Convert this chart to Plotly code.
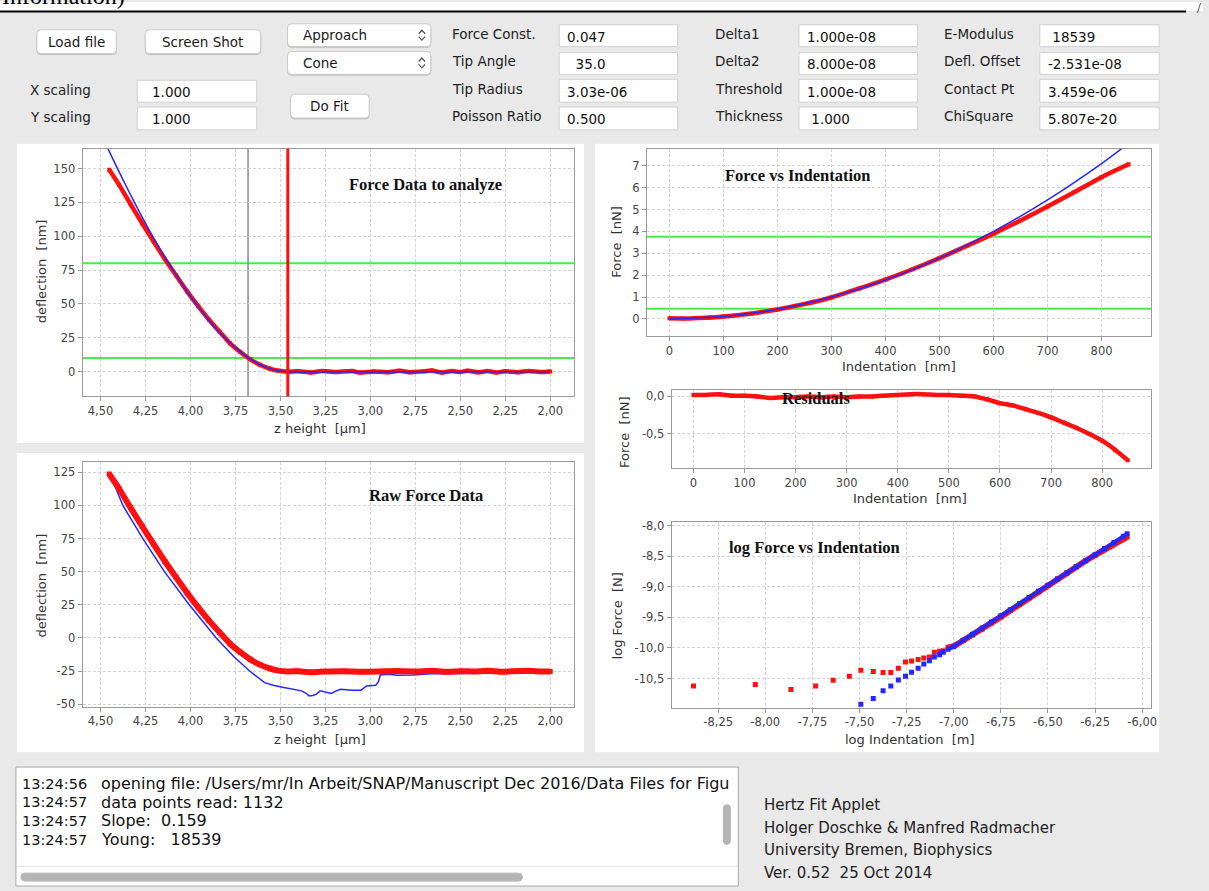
import plotly.graph_objects as go

W, H = 1209, 891

# ---------------- instrument parameters ----------------
force_const = 0.047        # N/m
delta1_nm = 10.0           # lower fit window (nm deflection)
delta2_nm = 80.0           # upper fit window (nm deflection)
contact_um = 3.459         # contact point (µm)
delta1_z_um = 3.68         # z where processed curve crosses Delta1

# ---------------- processed approach curve (z in µm, deflection in nm) ----------------
z_approach = [4.452, 4.397, 4.333, 4.268, 4.205, 4.142, 4.080, 4.018, 3.957, 3.897,
              3.838, 3.780, 3.723, 3.668, 3.614, 3.561, 3.510, 3.459,
              3.40, 3.33, 3.27, 3.20, 3.10, 3.06, 2.98, 2.90, 2.84, 2.78, 2.70, 2.66,
              2.60, 2.55, 2.50, 2.46, 2.40, 2.35, 2.30, 2.25, 2.18, 2.12, 2.05, 2.00]
defl_approach = [149.0, 137.9, 123.5, 109.4, 96.0, 83.0, 71.0, 59.1, 48.3, 38.3,
                 29.4, 20.9, 14.5, 9.1, 5.1, 2.3, 0.6, 0.0,
                 0.3, -0.6, 0.4, -0.3, 0.5, -0.7, 0.2, -0.5, 0.6, -0.4, 0.3, 0.8,
                 -0.6, 0.5, -0.3, 0.7, -0.5, 0.4, -0.6, 0.3, -0.4, 0.5, -0.3, 0.2]
z_fit = [4.480, 4.410, 4.342, 4.275, 4.209, 4.144, 4.080, 4.018, 3.957, 3.897,
         3.838, 3.780, 3.723, 3.668, 3.614, 3.561, 3.510, 3.459, 2.000]
defl_fit = [170.5, 151.0, 132.8, 115.6, 99.7, 85.0, 71.4, 59.0, 47.8, 37.8,
            28.9, 21.2, 14.8, 9.4, 5.3, 2.4, 0.6, 0.0, 0.0]

# ---------------- raw data (approach + retract) ----------------
z_raw_app = [4.452, 4.397, 4.333, 4.268, 4.205, 4.142, 4.080, 4.018, 3.957, 3.897,
             3.838, 3.780, 3.723, 3.668, 3.614, 3.561, 3.510, 3.459,
             3.40, 3.33, 3.25, 3.15, 3.05, 2.95, 2.85, 2.75, 2.66, 2.58, 2.50, 2.42,
             2.35, 2.28, 2.20, 2.12, 2.05, 2.00]
defl_raw_app = [123.7, 112.6, 98.2, 84.1, 70.7, 57.7, 45.7, 33.8, 23.0, 13.0,
                4.1, -4.4, -10.8, -16.2, -20.2, -23.0, -24.7, -25.3,
                -25.2, -25.9, -25.4, -25.1, -25.5, -25.3, -25.0, -25.4, -24.8, -25.6,
                -25.1, -25.4, -24.9, -25.5, -25.2, -24.8, -25.4, -25.3]
z_raw_ret = [4.451, 4.376, 4.265, 4.145, 4.007, 3.930, 3.857, 3.760, 3.671, 3.588,
             3.540, 3.496, 3.440, 3.382, 3.355, 3.341, 3.320, 3.300, 3.279, 3.250,
             3.217, 3.190, 3.166, 3.100, 3.052, 3.021, 2.990, 2.970, 2.955, 2.945,
             2.900, 2.850, 2.764, 2.700, 2.661, 2.500, 2.351, 2.200, 2.000]
defl_raw_ret = [124.7, 100.0, 75.0, 50.0, 25.0, 12.0, 0.0, -14.0, -25.0, -33.8,
                -35.8, -37.0, -38.5, -40.0, -42.0, -43.8, -43.5, -42.5, -40.0, -41.0,
                -42.0, -40.0, -38.8, -39.5, -39.5, -36.3, -36.0, -35.8, -33.0, -28.0,
                -27.5, -28.2, -28.0, -27.4, -27.0, -26.9, -26.6, -26.5, -26.3]

# ---------------- force vs indentation ----------------
ind_nm = [0, 25, 50, 75, 100, 150, 200, 250, 300, 350, 400, 450, 500, 550, 600,
          650, 700, 750, 800, 850]
force_nN = [0.03, 0.02, 0.04, 0.06, 0.11, 0.24, 0.43, 0.68, 0.98, 1.38, 1.80, 2.27,
            2.78, 3.33, 3.90, 4.50, 5.14, 5.80, 6.48, 7.07]
ind_fit_nm = [0, 100, 200, 300, 400, 500, 600, 700, 800, 850]
force_fit_nN = [0.0, 0.11, 0.44, 1.00, 1.78, 2.78, 4.00, 5.44, 7.10, 8.02]

# ---------------- residuals ----------------
ind_res_nm = [0, 25, 50, 75, 100, 125, 150, 175, 200, 225, 250, 275, 300, 325, 350,
              375, 400, 425, 450, 475, 500, 525, 550, 575, 600, 625, 650, 675, 700,
              725, 750, 775, 800, 825, 850]
residual_nN = [0.02, 0.02, 0.03, 0.01, 0.01, 0.0, -0.02, -0.01, -0.01, 0.0,
               -0.01, 0.0, -0.01, 0.0, 0.0, 0.01, 0.02, 0.03, 0.03, 0.02,
               0.02, 0.01, 0.0, -0.04, -0.09, -0.12, -0.17, -0.22, -0.28, -0.35,
               -0.42, -0.50, -0.59, -0.71, -0.85]

# ---------------- log-log data ----------------
log_ind_red = [-8.381, -8.053, -7.864, -7.733, -7.640, -7.554, -7.493, -7.427, -7.375, -7.334,
               -7.294, -7.256, -7.224, -7.189, -7.159, -7.129, -7.103, -7.075, -7.056, -7.030,
               -7.00, -6.95, -6.90, -6.85, -6.80, -6.75, -6.70, -6.65, -6.60, -6.55,
               -6.50, -6.45, -6.40, -6.35, -6.30, -6.25, -6.20, -6.15, -6.10, -6.08]
log_force_red = [-10.623, -10.596, -10.679, -10.623, -10.527, -10.462, -10.365, -10.386, -10.403, -10.403,
                 -10.331, -10.229, -10.213, -10.191, -10.164, -10.148, -10.071, -10.055, -10.045, -9.990,
                 -9.974, -9.879, -9.789, -9.694, -9.594, -9.492, -9.389, -9.284, -9.182, -9.079,
                 -8.977, -8.874, -8.774, -8.674, -8.574, -8.482, -8.390, -8.300, -8.216, -8.184]
log_ind_blue = [-7.493, -7.427, -7.375, -7.334, -7.294, -7.256, -7.224, -7.189, -7.159, -7.129,
                -7.103, -7.075, -7.056, -7.030,
                -7.00, -6.95, -6.90, -6.85, -6.80, -6.75, -6.70, -6.65, -6.60, -6.55,
                -6.50, -6.45, -6.40, -6.35, -6.30, -6.25, -6.20, -6.15, -6.10, -6.08]
log_force_blue = [-10.922, -10.825, -10.700, -10.623, -10.526, -10.461, -10.396, -10.331, -10.261, -10.208,
                  -10.148, -10.110, -10.070, -10.023,
                  -9.974, -9.874, -9.774, -9.674, -9.574, -9.474, -9.374, -9.274, -9.174, -9.074,
                  -8.974, -8.874, -8.774, -8.674, -8.574, -8.474, -8.374, -8.274, -8.174, -8.134]

# ---------------- tick labels ----------------
z_ticks = [4.50, 4.25, 4.00, 3.75, 3.50, 3.25, 3.00, 2.75, 2.50, 2.25, 2.00]
z_tick_text = ["4,50", "4,25", "4,00", "3,75", "3,50", "3,25", "3,00", "2,75", "2,50", "2,25", "2,00"]
defl_ticks = [0, 25, 50, 75, 100, 125, 150]
raw_defl_ticks = [-50, -25, 0, 25, 50, 75, 100, 125]
force_ticks = [0, 1, 2, 3, 4, 5, 6, 7]
ind_ticks = [0, 100, 200, 300, 400, 500, 600, 700, 800]
res_ticks = [0.0, -0.5]
res_tick_text = ["0,0", "-0,5"]
logf_ticks = [-8.0, -8.5, -9.0, -9.5, -10.0, -10.5]
logf_tick_text = ["-8,0", "-8,5", "-9,0", "-9,5", "-10,0", "-10,5"]
logi_ticks = [-8.25, -8.00, -7.75, -7.50, -7.25, -7.00, -6.75, -6.50, -6.25, -6.00]
logi_tick_text = ["-8,25", "-8,00", "-7,75", "-7,50", "-7,25", "-7,00", "-6,75", "-6,50", "-6,25", "-6,00"]

# ---------------- control panel content ----------------
param_col1 = [("Force Const.", "0.047"), ("Tip Angle", "  35.0"), ("Tip Radius", "3.03e-06"), ("Poisson Ratio", "0.500")]
param_col2 = [("Delta1", "1.000e-08"), ("Delta2", "8.000e-08"), ("Threshold", "1.000e-08"), ("Thickness", " 1.000")]
param_col3 = [("E-Modulus", " 18539"), ("Defl. Offset", "-2.531e-08"), ("Contact Pt", "3.459e-06"), ("ChiSquare", "5.807e-20")]
log_lines = [("13:24:56", "opening file: /Users/mr/In Arbeit/SNAP/Manuscript Dec 2016/Data Files for Figu"),
             ("13:24:57", "data points read: 1132"),
             ("13:24:57", "Slope:  0.159"),
             ("13:24:57", "Young:   18539")]
credits = ["Hertz Fit Applet", "Holger Doschke & Manfred Radmacher",
           "University Bremen, Biophysics", "Ver. 0.52  25 Oct 2014"]

# ---------------- style ----------------
BG = "#e9e9e9"
RED = "#ff1010"
BLUE = "#2626ff"
GREEN = "#44ee44"
UI_FONT = "DejaVu Sans"
SERIF = "Liberation Serif"


def X(p):
    return p / W


def Y(p):
    return 1 - p / H


def dom_x(a, b):
    return [a / W, b / W]


def dom_y(top, bottom):
    return [1 - bottom / H, 1 - top / H]


def make_axis(domain, rng, tickvals, ticktext, anchor):
    return dict(domain=domain, range=rng, tickmode="array", tickvals=tickvals, ticktext=ticktext,
                showgrid=True, gridcolor="#d2d2d2", griddash="3px,2px", gridwidth=1,
                showline=True, mirror=True, linecolor="#9a9a9a", linewidth=1,
                ticks="outside", ticklen=4, tickwidth=1, tickcolor="#9a9a9a",
                tickfont=dict(family=UI_FONT, size=11.5, color="#444"),
                zeroline=False, anchor=anchor, fixedrange=True)


shapes = []
annotations = []


def rect(x0, y0, x1, y1, fill, line="rgba(0,0,0,0)", width=1, layer="below"):
    shapes.append(dict(type="rect", xref="paper", yref="paper", x0=X(x0), x1=X(x1), y0=Y(y1), y1=Y(y0),
                       fillcolor=fill, line=dict(color=line, width=width), layer=layer))


def rrect(x0, y0, x1, y1, r, fill, line, width=1, layer="below"):
    ax, bx, ay, by = X(x0), X(x1), Y(y0), Y(y1)
    rx, ry = r / W, r / H
    path = (f"M {ax+rx},{ay} L {bx-rx},{ay} Q {bx},{ay} {bx},{ay-ry} "
            f"L {bx},{by+ry} Q {bx},{by} {bx-rx},{by} L {ax+rx},{by} Q {ax},{by} {ax},{by+ry} "
            f"L {ax},{ay-ry} Q {ax},{ay} {ax+rx},{ay} Z")
    shapes.append(dict(type="path", xref="paper", yref="paper", path=path,
                       fillcolor=fill, line=dict(color=line, width=width), layer=layer))


def polyline(pts, color, width=1.2):
    path = "M " + " L ".join(f"{X(a)},{Y(b)}" for a, b in pts)
    shapes.append(dict(type="path", xref="paper", yref="paper", path=path,
                       line=dict(color=color, width=width), layer="above"))


def text(x, y, s, size=13.5, color="#222", family=UI_FONT, anchor="left", angle=0):
    annotations.append(dict(x=X(x), y=Y(y), xref="paper", yref="paper", text=s, showarrow=False,
                            xanchor=anchor, yanchor="middle", textangle=angle,
                            font=dict(family=family, size=size, color=color)))


# top strip
rect(0, -2, W, 7, "#ffffff")
rect(0, 6.5, 1192, 8.5, "#000000")
text(0, -8, "Information)", size=24, color="#000", family=SERIF)
text(1201, 5, "/", size=14, color="#000", family=SERIF)


# buttons
def button(x0, y0, x1, y1, label):
    rrect(x0, y0 + 1, x1, y1 + 1, 4, "#c2c2c2", "#c2c2c2")
    rrect(x0, y0, x1, y1, 4, "#ffffff", "#cacaca")
    text((x0 + x1) / 2, (y0 + y1) / 2, label, color="#1a1a1a", anchor="center")


button(37, 26, 117, 50, "Load file")
button(146, 26, 262, 50, "Screen Shot")
button(292, 91, 371, 115, "Do Fit")


def dropdown(x0, y0, x1, y1, label):
    rrect(x0, y0 + 1, x1, y1 + 1, 4, "#c6c6c6", "#c6c6c6")
    rrect(x0, y0, x1, y1, 4, "#ffffff", "#cacaca")
    text(x0 + 14, (y0 + y1) / 2, label, color="#1a1a1a")
    cx, cy = x1 - 9, (y0 + y1) / 2
    polyline([(cx - 3.2, cy - 1.5), (cx, cy - 5), (cx + 3.2, cy - 1.5)], "#555")
    polyline([(cx - 3.2, cy + 1.5), (cx, cy + 5), (cx + 3.2, cy + 1.5)], "#555")


dropdown(289, 20, 433, 43, "Approach")
dropdown(289, 48, 433, 71, "Cone")


def field(x0, y0, x1, y1, value, pad=6):
    rect(x0, y0, x1, y1, "#ffffff", "#d0d0d0")
    text(x0 + pad, (y0 + y1) / 2 + 1, value, color="#111")


text(28, 87, "X scaling")
text(28, 114, "Y scaling")
field(138, 77, 258, 99, "1.000", pad=13)
field(138, 104, 258, 127, "1.000", pad=13)

rows = [(21, 43), (49, 71), (76, 99), (104, 127)]
for (lab, val), (y0, y1) in zip(param_col1, rows):
    text(452, (y0 + y1) / 2 - 2, lab)
    field(562, y0, 681, y1, val)
for (lab, val), (y0, y1) in zip(param_col2, rows):
    text(717, (y0 + y1) / 2 - 2, lab)
    field(803, y0, 922, y1, val)
for (lab, val), (y0, y1) in zip(param_col3, rows):
    text(947, (y0 + y1) / 2 - 2, lab)
    field(1045, y0, 1165, y1, val)

# white chart panels
rect(17, 141, 587, 443, "#ffffff")
rect(17, 453, 587, 755, "#ffffff")
rect(598, 141, 1165, 755, "#ffffff")

# log area
rect(16, 770, 742, 890, "#ffffff", "#a8a8a8")
rect(17, 869.5, 741, 870.5, "#e2e2e2")
rrect(21, 877, 525, 885, 4, "#b4b4b4", "#b4b4b4")
rrect(727, 808, 734, 848, 3.5, "#b4b4b4", "#b4b4b4")
for i, (t, msg) in enumerate(log_lines):
    yy = 787 + 18.7 * i
    text(20, yy, t, size=14.5, color="#111")
    text(99, yy, msg, size=16, color="#111")
for i, s in enumerate(credits):
    text(766, 808 + 23 * i, s, size=15, color="#222")


# panel titles and axis titles
def title(x, y, s):
    text(x, y, "<b>" + s + "</b>", size=16.5, color="#111", family=SERIF, anchor="center")


title(428, 182, "Force Data to analyze")
title(428, 496, "Raw Force Data")
title(801, 173, "Force vs Indentation")
title(820, 398, "Residuals")
title(819, 548, "log Force vs Indentation")

AX_T = dict(size=13, color="#333")
text(42, 270, "deflection  [nm]", anchor="center", angle=-90, **AX_T)
text(322, 428, "z height  [µm]", anchor="center", **AX_T)
text(42, 587, "deflection  [nm]", anchor="center", angle=-90, **AX_T)
text(322, 742, "z height  [µm]", anchor="center", **AX_T)
text(620, 240, "Force  [nN]", anchor="center", angle=-90, **AX_T)
text(903, 366, "Indentation  [nm]", anchor="center", **AX_T)
text(627, 432, "Force  [nN]", anchor="center", angle=-90, **AX_T)
text(915, 499, "Indentation  [nm]", anchor="center", **AX_T)
text(621, 617, "log Force  [N]", anchor="center", angle=-90, **AX_T)
text(915, 742, "log Indentation  [m]", anchor="center", **AX_T)


# fit window / contact markers inside the plots
def hline(axis_x, axis_y, yval, color, width):
    shapes.append(dict(type="line", xref=f"{axis_x} domain", yref=axis_y, x0=0, x1=1, y0=yval, y1=yval,
                       line=dict(color=color, width=width), layer="below"))


def vline(axis_x, axis_y, xval, color, width, layer="below"):
    shapes.append(dict(type="line", xref=axis_x, yref=f"{axis_y} domain", x0=xval, x1=xval, y0=0, y1=1,
                       line=dict(color=color, width=width), layer=layer))


hline("x", "y", delta2_nm, GREEN, 2)
hline("x", "y", delta1_nm, GREEN, 2)
vline("x", "y", delta1_z_um, "#8a8a8a", 1.5)
vline("x", "y", contact_um, RED, 3, layer="above")
hline("x3", "y3", force_const * delta2_nm, GREEN, 2)
hline("x3", "y3", force_const * delta1_nm, GREEN, 2)

fig = go.Figure()


def add(x, y, xa, ya, mode, color, width=1.5, size=5, shape="linear", smoothing=0.6):
    fig.add_trace(go.Scatter(x=x, y=y, xaxis=xa, yaxis=ya, mode=mode, hoverinfo="skip",
                             line=dict(color=color, width=width, shape=shape,
                                       smoothing=smoothing if shape == "spline" else None),
                             marker=dict(color=color, size=size, symbol="square")))


# panel 1: processed data with fit
add(z_approach, defl_approach, "x", "y", "lines+markers", RED, width=4.5, size=4, shape="spline")
add(z_fit, defl_fit, "x", "y", "lines", BLUE, width=1.5, shape="spline", smoothing=0.5)

# panel 2: raw data
add(z_raw_ret, defl_raw_ret, "x2", "y2", "lines", BLUE, width=1.5)
add(z_raw_app, defl_raw_app, "x2", "y2", "lines+markers", RED, width=6, size=5, shape="spline")

# panel 3: force vs indentation
add(ind_nm, force_nN, "x3", "y3", "lines+markers", RED, width=4.5, size=4, shape="spline")
add(ind_fit_nm, force_fit_nN, "x3", "y3", "lines", BLUE, width=1.5, shape="spline")

# panel 4: residuals
add(ind_res_nm, residual_nN, "x4", "y4", "lines+markers", RED, width=4.5, size=4, shape="spline")

# panel 5: log force vs log indentation
add(log_ind_red, log_force_red, "x5", "y5", "markers", RED, size=5)
add(log_ind_red[19:], log_force_red[19:], "x5", "y5", "lines", RED, width=6)
add(log_ind_blue, log_force_blue, "x5", "y5", "markers", BLUE, size=5)
add(log_ind_blue[13:], log_force_blue[13:], "x5", "y5", "lines", BLUE, width=4)

fig.update_layout(
    width=W, height=H, margin=dict(l=0, r=0, t=0, b=0),
    paper_bgcolor=BG, plot_bgcolor="#ffffff", showlegend=False,
    xaxis=make_axis(dom_x(83, 577), [4.60, 1.867], z_ticks, z_tick_text, "y"),
    yaxis=make_axis(dom_y(146, 396), [-18.3, 164.6], defl_ticks, [str(v) for v in defl_ticks], "x"),
    xaxis2=make_axis(dom_x(83, 577), [4.60, 1.867], z_ticks, z_tick_text, "y2"),
    yaxis2=make_axis(dom_y(462, 709), [-51.9, 132.9], raw_defl_ticks, [str(v) for v in raw_defl_ticks], "x2"),
    xaxis3=make_axis(dom_x(650, 1157), [-42, 892], ind_ticks, [str(v) for v in ind_ticks], "y3"),
    yaxis3=make_axis(dom_y(146, 335), [-0.78, 7.78], force_ticks, [str(v) for v in force_ticks], "x3"),
    xaxis4=make_axis(dom_x(675, 1157), [-42.5, 896], ind_ticks, [str(v) for v in ind_ticks], "y4"),
    yaxis4=make_axis(dom_y(389, 468), [-0.951, 0.092], res_ticks, res_tick_text, "x4"),
    xaxis5=make_axis(dom_x(675, 1157), [-8.497, -5.952], logi_ticks, logi_tick_text, "y5"),
    yaxis5=make_axis(dom_y(523, 710), [-10.976, -7.945], logf_ticks, logf_tick_text, "x5"),
    shapes=shapes, annotations=annotations,
)

fig.write_html("out.html", post_script="document.body.style.margin='0px';")
